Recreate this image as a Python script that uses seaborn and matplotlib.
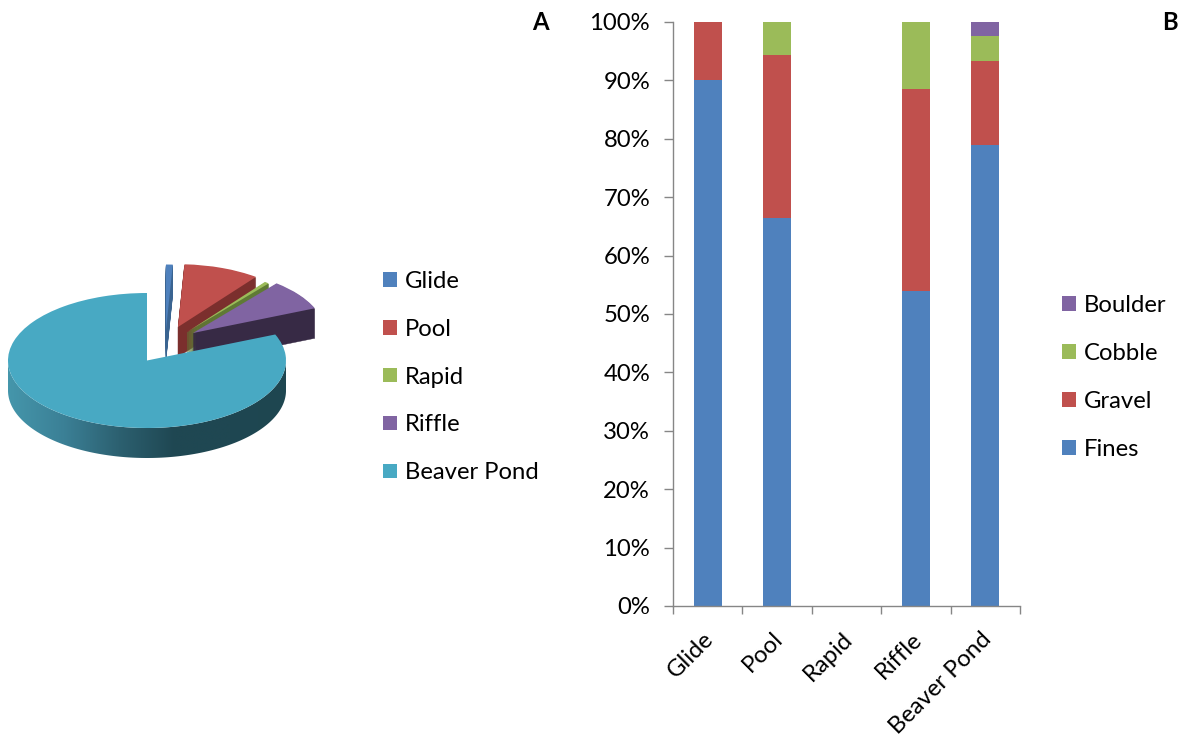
"""plot.py - habitat pie (A) and substrate stacked bars (B)"""

import numpy as np
import pandas as pd
import matplotlib
matplotlib.use("Agg")
import matplotlib.pyplot as plt
import seaborn as sns
from matplotlib.colors import LinearSegmentedColormap
from matplotlib.patches import Patch, Polygon, Wedge
from matplotlib.transforms import ScaledTranslation

sns.set_theme(style="white")
plt.rcParams['font.family'] = ['Lato', 'DejaVu Sans']

W, H = 1182, 739

# data
habitats = ['Glide', 'Pool', 'Rapid', 'Riffle', 'Beaver Pond']
habitat_share = [0.8, 9.5, 0.6, 7.8, 81.3]

fines = [90.0, 66.5, 0.0, 54.0, 79.0]
gravel = [10.0, 27.8, 0.0, 34.5, 14.3]
cobble = [0.0, 5.7, 0.0, 11.5, 4.3]
boulder = [0.0, 0.0, 0.0, 0.0, 2.4]

pie_colors = ['#4F81BD', '#C0504D', '#9BBB59', '#8064A2', '#48A9C3']
side_colors = ['#3A6491', '#7B2F2D', '#5F7A35', '#372A45', '#1F4752']
bar_colors = {'Fines': '#4F81BD', 'Gravel': '#C0504D', 'Cobble': '#9BBB59', 'Boulder': '#8064A2'}

FONT = 17.2


def px_axes(left, top, right, bottom):
    return fig.add_axes([left / W, 1 - bottom / H, (right - left) / W, (bottom - top) / H])


fig = plt.figure(figsize=(W / 100, H / 100), dpi=100)

# ---- A: pie, faked 3D ----
RX, RY, DEPTH = 139, 67.5, 30
CX, CY = 147, 360.5
ax_pie = px_axes(0, 240, 340, 480)

wedges, _ = ax_pie.pie(habitat_share, colors=pie_colors, startangle=90, counterclock=False,
                       wedgeprops={'linewidth': 0})
ax_pie.set_aspect('auto')
ax_pie.set_xlim((0 - CX) / RX, (340 - CX) / RX)
ax_pie.set_ylim((CY - 480) / RY, (CY - 240) / RY)

# top-surface apex of each pulled-out slice, in pixels, and its radius
apex_px = [(166, 330), (178, 327), (187, 332), (193, 333), (CX, 358)]
radii = [0.97, 0.93, 0.93, 0.95, 1.0]
dy_step = 1 / RY

for i, (w, apex, r, side) in enumerate(zip(wedges, apex_px, radii, side_colors)):
    z = i + 2
    cx = (apex[0] - CX) / RX
    cy = (CY - apex[1]) / RY
    if i == 4:
        # apex sits a bit above the ellipse centre on the big slice
        cy = 0
    w.set_center((cx, cy))
    w.set_radius(r)
    w.set_zorder(z + 0.5 if i < 4 else 8.5)
    if i == 4:
        continue
    for d in range(DEPTH, 0, -1):
        ax_pie.add_patch(Wedge((cx, cy - d * dy_step), r, w.theta1, w.theta2,
                               facecolor=side, edgecolor=side, linewidth=0.3, zorder=z))

# beaver pond side with Excel style gradient
theta = np.radians(np.linspace(180, 360, 200))
top_edge = np.column_stack([np.cos(theta), np.sin(theta)])
low_edge = top_edge[::-1] - [0, DEPTH * dy_step]
band = Polygon(np.vstack([top_edge, low_edge]), closed=True, transform=ax_pie.transData,
               facecolor='none', edgecolor='none')
ax_pie.add_patch(band)
grad_cmap = LinearSegmentedColormap.from_list(
    'side', ['#4596AB', '#3B8096', '#2C6070', '#1F4752', '#1F4752', '#1E4650'])
xlim, ylim = ax_pie.get_xlim(), ax_pie.get_ylim()
img = ax_pie.imshow(np.linspace(0, 1, 256).reshape(1, -1), cmap=grad_cmap, aspect='auto',
                    extent=(-1, 1, -1 - DEPTH * dy_step, 0), zorder=7)
img.set_clip_path(band)
ax_pie.set_xlim(xlim)
ax_pie.set_ylim(ylim)
ax_pie.axis('off')

leg_a = [Patch(facecolor=c, edgecolor='none', label=l) for c, l in zip(pie_colors, habitats)]
fig.legend(handles=leg_a, loc='center left', bbox_to_anchor=(383 / W, 1 - 377 / H),
           frameon=False, fontsize=FONT, handlelength=0.58, handleheight=0.58,
           handletextpad=0.33, labelspacing=1.13, borderpad=0, borderaxespad=0,
           labelcolor='black')

# ---- B: stacked bars ----
ax_bar = px_axes(673, 22, 1020, 606)
df = pd.DataFrame({'habitat': habitats, 'Fines': fines, 'Gravel': gravel,
                   'Cobble': cobble, 'Boulder': boulder})

bottom = np.zeros(len(df))
for name in ['Fines', 'Gravel', 'Cobble', 'Boulder']:
    sns.barplot(data=df, x='habitat', y=name, color=bar_colors[name], saturation=1,
                bottom=bottom, width=0.4, ax=ax_bar, linewidth=0)
    bottom = bottom + df[name].values

ax_bar.set_xlim(-0.5, 4.5)
ax_bar.set_ylim(0, 100)
ax_bar.set_xlabel('')
ax_bar.set_ylabel('')
ax_bar.set_yticks(range(0, 101, 10))
ax_bar.set_yticklabels([f'{v}%' for v in range(0, 101, 10)], fontsize=FONT, color='black')
ax_bar.set_xticks(range(5))
ax_bar.set_xticklabels(habitats, fontsize=FONT, color='black', rotation=45, ha='right',
                       rotation_mode='anchor')
ax_bar.set_xticks(np.arange(-0.5, 5), minor=True)
ax_bar.tick_params(axis='x', which='major', length=0, pad=16)
ax_bar.tick_params(axis='x', which='minor', length=6, width=1, color='#868686', bottom=True)
ax_bar.tick_params(axis='y', length=6.5, width=1, color='#868686', left=True, pad=10)
shift = ScaledTranslation(-5 / 100, 0, fig.dpi_scale_trans)
for lab in ax_bar.get_xticklabels():
    lab.set_transform(lab.get_transform() + shift)
for side in ['top', 'right']:
    ax_bar.spines[side].set_visible(False)
for side in ['left', 'bottom']:
    ax_bar.spines[side].set_color('#868686')
    ax_bar.spines[side].set_linewidth(1)

order = ['Boulder', 'Cobble', 'Gravel', 'Fines']
leg_b = [Patch(facecolor=bar_colors[n], edgecolor='none', label=n) for n in order]
fig.legend(handles=leg_b, loc='center left', bbox_to_anchor=(1062 / W, 1 - 377.5 / H),
           frameon=False, fontsize=FONT, handlelength=0.58, handleheight=0.58,
           handletextpad=0.33, labelspacing=1.13, borderpad=0, borderaxespad=0,
           labelcolor='black')

fig.text(540 / W, 1 - 23 / H, 'A', fontsize=FONT, fontweight='bold', ha='center', va='center', color='black')
fig.text(1170 / W, 1 - 23 / H, 'B', fontsize=FONT, fontweight='bold', ha='center', va='center', color='black')

fig.savefig('out.png', dpi=100)
